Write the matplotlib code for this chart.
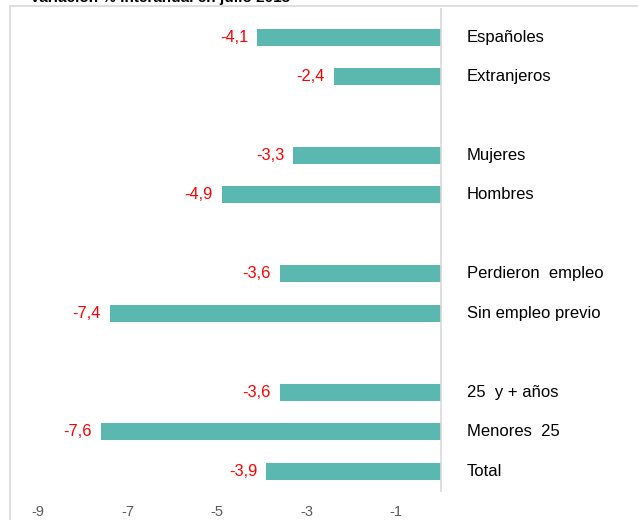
import matplotlib
matplotlib.use('Agg')
import matplotlib.pyplot as plt
from matplotlib.patches import Rectangle

plt.rcParams['font.family'] = ['Liberation Sans', 'DejaVu Sans']

# data, top to bottom (None marks an empty slot between groups)
categories = ['Españoles', 'Extranjeros', None,
              'Mujeres', 'Hombres', None,
              'Perdieron  empleo', 'Sin empleo previo', None,
              '25  y + años', 'Menores  25', 'Total']
values = [-4.1, -2.4, None,
          -3.3, -4.9, None,
          -3.6, -7.4, None,
          -3.6, -7.6, -3.9]
xticks = [-9, -7, -5, -3, -1]
title = 'Variación % interanual en julio 2013'

bar_color = '#5bb8b1'

fig = plt.figure(figsize=(6.38, 5.2), dpi=100)
ax = fig.add_axes([0, 0, 1, 1])
ax.set_xlim(-9.85, 4.4)
ax.set_ylim(12.24, -0.94)
ax.axis('off')

# light frame
fig.patches.append(Rectangle((10 / 638, -0.1), 1.2, 1 - 6 / 520 + 0.1,
                             transform=fig.transFigure, fill=False,
                             edgecolor='#d9d9d9', linewidth=1.2))

for i, (cat, v) in enumerate(zip(categories, values)):
    if cat is None:
        continue
    ax.barh(i, v, height=0.43, color=bar_color)
    ax.text(v - 0.2, i, ('%.1f' % v).replace('.', ','), color='red',
            fontsize=11.8, ha='right', va='center')
    ax.text(0.58, i, cat, color='black', fontsize=12, ha='left', va='center')

ax.vlines(0, -0.74, 11.53, color='#d9d9d9', linewidth=1.2)

for t in xticks:
    ax.text(t, 12.03, str(t), color='#595959', fontsize=10.5,
            ha='center', va='center')

fig.text(30 / 638, 1.004, title, fontsize=11, fontweight='bold',
         ha='left', va='center')

fig.savefig('out.png', dpi=100)
